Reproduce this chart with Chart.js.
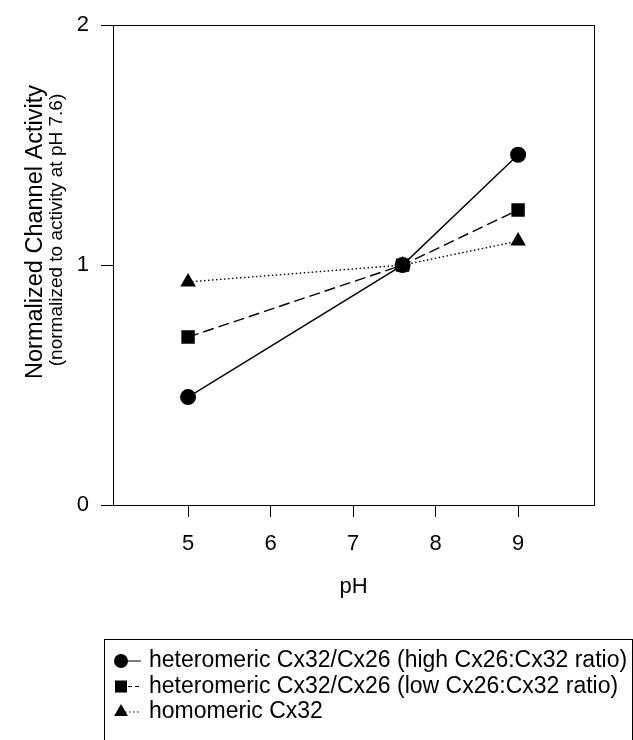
<!DOCTYPE html>
<html>
<head>
<meta charset="utf-8">
<script src="https://cdn.jsdelivr.net/npm/chart.js@4/dist/chart.umd.min.js"></script>
<style>
  html, body { margin: 0; padding: 0; background: #fff; }
</style>
</head>
<body>
<canvas id="phChart" width="633" height="740"></canvas>
<script>
// data
const pH = [5, 7.6, 9];
const highRatio = [0.45, 1.0, 1.46];
const lowRatio = [0.70, 1.0, 1.23];
const homomeric = [0.93, 1.0, 1.10];
const xTicks = [5, 6, 7, 8, 9];
const yTicks = [0, 1, 2];
const seriesLabels = [
  'heteromeric Cx32/Cx26 (high Cx26:Cx32 ratio)',
  'heteromeric Cx32/Cx26 (low Cx26:Cx32 ratio)',
  'homomeric Cx32'
];
const yTitle = ['Normalized Channel Activity', '(normalized to activity at pH 7.6)'];

const FONT = '"Liberation Sans", Arial, sans-serif';
Chart.defaults.font.family = FONT;
Chart.defaults.color = '#000';

function pts(ys) {
  return pH.map((x, i) => ({ x: x, y: ys[i] }));
}

// frame, y title and the boxed legend under the plot
const extras = {
  id: 'extras',
  afterDraw(chart) {
    const ctx = chart.ctx;
    const a = chart.chartArea;
    ctx.save();
    ctx.strokeStyle = '#000';
    ctx.lineWidth = 1;
    ctx.strokeRect(Math.round(a.left) + 0.5, Math.round(a.top) + 0.5,
      Math.round(a.right - a.left), Math.round(a.bottom - a.top));

    // y title, two lines
    ctx.save();
    ctx.translate(36, 232);
    ctx.rotate(-Math.PI / 2);
    ctx.fillStyle = '#000';
    ctx.textAlign = 'center';
    ctx.textBaseline = 'middle';
    ctx.font = '23.5px ' + FONT;
    ctx.fillText(yTitle[0], 0, 0);
    ctx.font = '19px ' + FONT;
    ctx.fillText(yTitle[1], 2, 21);
    ctx.restore();

    // legend
    ctx.strokeRect(104.5, 639.5, 528, 200);
    ctx.font = '23px ' + FONT;
    ctx.textAlign = 'left';
    ctx.textBaseline = 'middle';
    chart.data.datasets.forEach((ds, i) => {
      const y = 661 + i * 25.5;
      ctx.save();
      ctx.lineWidth = 1;
      ctx.setLineDash(ds.legendDash);
      ctx.beginPath();
      ctx.moveTo(121, y);
      ctx.lineTo(141, y);
      ctx.stroke();
      ctx.restore();
      Chart.helpers.drawPoint(ctx, {
        pointStyle: ds.pointStyle,
        radius: ds.pointRadius - 1,
        rotation: 0,
        borderWidth: 0
      }, 121, y);
      ctx.fillStyle = '#000';
      ctx.fillText(ds.label, 149, y);
    });
    ctx.restore();
  }
};

function common(ds) {
  return Object.assign({
    borderColor: '#000',
    backgroundColor: '#000',
    pointBackgroundColor: '#000',
    pointBorderColor: '#000',
    pointBorderWidth: 0,
    borderWidth: 1.4,
    tension: 0,
    showLine: true,
    fill: false
  }, ds);
}

new Chart(document.getElementById('phChart'), {
  type: 'scatter',
  data: {
    datasets: [
      common({ label: seriesLabels[0], data: pts(highRatio), pointStyle: 'circle', pointRadius: 8, legendDash: [] }),
      common({ label: seriesLabels[1], data: pts(lowRatio), pointStyle: 'rect', pointRadius: 9.5, borderDash: [11, 5], legendDash: [4, 3] }),
      common({ label: seriesLabels[2], data: pts(homomeric), pointStyle: 'triangle', pointRadius: 9, borderDash: [1.5, 2.5], legendDash: [1.5, 2.5] })
    ]
  },
  options: {
    responsive: false,
    animation: false,
    layout: { padding: { left: 0, top: 22, right: 39, bottom: 140 } },
    plugins: { legend: { display: false }, tooltip: { enabled: false } },
    scales: {
      x: {
        type: 'linear',
        min: 4.09,
        max: 9.92,
        afterBuildTicks: s => { s.ticks = xTicks.map(v => ({ value: v })); },
        afterFit: s => { s.height = 95; },
        ticks: { font: { size: 22 }, padding: 14, maxRotation: 0 },
        grid: { drawOnChartArea: false, tickLength: 12, color: '#000' },
        border: { display: true, color: '#000' },
        title: { display: true, text: 'pH', font: { size: 22 }, padding: { top: 0, bottom: 0 } }
      },
      y: {
        min: 0,
        max: 2,
        afterBuildTicks: s => { s.ticks = yTicks.map(v => ({ value: v })); },
        afterFit: s => { s.width = 113; },
        ticks: { font: { size: 22 }, padding: 12 },
        grid: { drawOnChartArea: false, tickLength: 12, color: '#000' },
        border: { display: true, color: '#000' }
      }
    }
  },
  plugins: [extras]
});
</script>
</body>
</html>
